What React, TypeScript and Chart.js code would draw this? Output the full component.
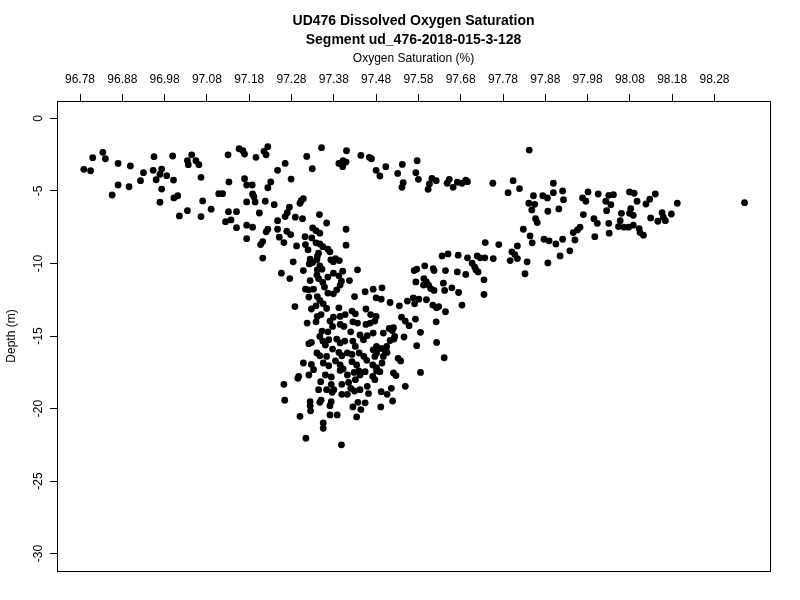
import { useEffect, useRef } from "react";
import { Chart, registerables } from "chart.js";

Chart.register(...registerables);

const titleLines = ["UD476 Dissolved Oxygen Saturation", "Segment ud_476-2018-015-3-128"];
const xTitle = "Oxygen Saturation (%)";
const yTitle = "Depth (m)";

const xTicks = [96.78, 96.88, 96.98, 97.08, 97.18, 97.28, 97.38, 97.48, 97.58, 97.68, 97.78, 97.88, 97.98, 98.08, 98.18, 98.28];
const yTicks = [0, -5, -10, -15, -20, -25, -30];

const oxygen = [
  96.810, 96.834, 96.840, 96.789, 96.805, 96.870, 96.899, 96.955, 96.999, 97.044,
  97.034, 97.054, 97.036, 97.061, 97.130, 97.156, 96.930, 96.953, 96.973, 96.969,
  96.985, 96.960, 96.923, 97.001, 97.066, 97.132, 96.870, 96.896, 96.973, 96.856,
  97.002, 97.011, 96.969, 97.070, 97.108, 97.117, 97.034, 97.015, 97.066, 97.090,
  97.131, 97.150, 97.124, 97.137, 97.150, 97.165, 97.169, 97.196, 97.215, 97.224,
  97.220, 97.265, 97.247, 97.279, 97.316, 97.351, 97.329, 97.410, 97.392, 97.402,
  97.409, 97.401, 97.444, 97.464, 97.469, 97.480, 97.489, 97.503, 97.531, 97.542,
  97.544, 97.541, 97.169, 97.174, 97.187, 97.231, 97.224, 97.188, 97.191, 97.174,
  97.194, 97.218, 97.239, 97.303, 97.308, 97.300, 97.204, 97.275, 97.270, 97.265,
  97.289, 97.306, 97.346, 97.363, 97.247, 97.174, 97.188, 97.224, 97.220, 97.247,
  97.269, 97.278, 97.330, 97.338, 97.347, 97.409, 97.312, 97.328, 97.251, 97.174,
  97.842, 97.577, 97.574, 97.580, 97.606, 97.603, 97.612, 97.622, 97.653, 97.648,
  97.662, 97.672, 97.683, 97.692, 97.696, 97.756, 97.804, 97.792, 97.819, 97.899,
  97.899, 97.921, 97.852, 97.874, 97.885, 97.923, 97.841, 97.855, 97.848, 97.886,
  97.912, 97.857, 97.861, 97.828, 97.844, 97.877, 97.921, 97.946, 97.956, 97.981,
  98.005, 97.968, 97.976, 98.030, 98.041, 98.023, 98.035, 98.025, 98.079, 98.090,
  98.097, 98.118, 98.127, 98.140, 98.192, 98.351, 97.970, 98.060, 98.082, 98.079,
  98.088, 98.129, 98.146, 98.156, 98.159, 98.164, 98.178, 97.995, 98.003, 98.030,
  98.057, 98.053, 98.066, 98.077, 98.088, 98.102, 98.104, 98.112, 98.031, 97.997,
  97.962, 97.212, 97.207, 97.262, 97.292, 97.313, 97.319, 97.338, 97.347, 97.354,
  97.366, 97.371, 97.409, 97.212, 97.284, 97.324, 97.330, 97.340, 97.341, 97.322,
  97.344, 97.373, 97.379, 97.384, 97.393, 97.256, 97.276, 97.308, 97.341, 97.340,
  97.344, 97.347, 97.352, 97.366, 97.324, 97.313, 97.321, 97.332, 97.354, 97.358,
  97.379, 97.392, 97.401, 97.398, 97.395, 97.417, 97.436, 97.387, 97.379, 97.366,
  97.321, 97.341, 97.347, 97.355, 97.429, 97.454, 97.473, 97.480, 97.288, 97.327,
  97.338, 97.363, 97.392, 97.423, 97.431, 97.456, 97.341, 97.350, 97.379, 97.395,
  97.407, 97.467, 97.480, 97.738, 97.770, 97.814, 97.801, 97.808, 97.797, 97.814,
  97.636, 97.650, 97.674, 97.696, 97.719, 97.726, 97.737, 97.757, 97.707, 97.713,
  97.716, 97.721, 97.570, 97.576, 97.595, 97.615, 97.617, 97.644, 97.672, 97.692,
  97.735, 97.574, 97.593, 97.599, 97.604, 97.592, 97.609, 97.617, 97.639, 97.642,
  97.659, 97.675, 97.735, 97.494, 97.492, 97.513, 97.535, 97.554, 97.568, 97.571,
  97.581, 97.599, 97.614, 97.623, 97.628, 97.644, 97.683, 97.540, 97.549, 97.558,
  97.573, 97.622, 97.511, 97.521, 97.317, 97.338, 97.371, 97.377, 97.366, 97.395,
  97.404, 97.425, 97.436, 97.456, 97.466, 97.477, 97.352, 97.347, 97.420, 97.442,
  97.450, 97.459, 97.473, 97.321, 97.327, 97.354, 97.360, 97.368, 97.387, 97.395,
  97.406, 97.425, 97.431, 97.377, 97.392, 97.399, 97.340, 97.347, 97.363, 97.412,
  97.423, 97.440, 97.451, 97.473, 97.481, 97.308, 97.327, 97.332, 97.355, 97.368,
  97.384, 97.395, 97.402, 97.395, 97.423, 97.434, 97.439, 97.458, 97.472, 97.481,
  97.297, 97.321, 97.360, 97.374, 97.412, 97.428, 97.442, 97.454, 97.472, 97.497,
  97.518, 97.524, 97.513, 97.522, 97.546, 97.585, 97.623, 97.576, 97.481, 97.492,
  97.505, 97.502, 97.477, 97.497, 97.506, 97.532, 97.538, 97.641, 97.494, 97.481,
  97.585, 97.521, 97.527, 97.489, 97.262, 97.295, 97.264, 97.349, 97.374, 97.380,
  97.376, 97.363, 97.344, 97.399, 97.412, 97.420, 97.429, 97.442, 97.399, 97.415,
  97.431, 97.459, 97.462, 97.477, 97.492, 97.506, 97.324, 97.324, 97.350, 97.347,
  97.374, 97.371, 97.425, 97.437, 97.444, 97.454, 97.491, 97.325, 97.371, 97.388,
  97.434, 97.300, 97.355, 97.355, 97.314, 97.398, 97.549, 97.516, 97.519, 97.849,
  97.889, 97.905, 97.950, 97.938, 97.915, 97.886, 97.837, 97.832,
];

const depth = [
  -2.71, -2.34, -2.78, -3.51, -3.61, -3.10, -3.28, -2.64, -2.59, -2.51,
  -2.92, -2.92, -3.19, -3.19, -2.51, -2.09, -3.74, -3.58, -3.49, -3.85,
  -3.95, -4.23, -4.29, -4.25, -4.06, -4.38, -4.59, -4.71, -4.87, -5.28,
  -5.48, -5.33, -5.78, -5.69, -5.19, -5.19, -6.36, -6.72, -6.77, -6.26,
  -6.43, -6.43, -7.12, -7.00, -7.53, -2.23, -2.46, -2.68, -2.27, -1.95,
  -2.51, -3.10, -3.58, -4.18, -2.62, -2.02, -3.47, -2.23, -3.10, -2.92,
  -3.01, -3.33, -2.55, -2.68, -2.78, -3.58, -3.97, -3.33, -3.79, -3.17,
  -4.43, -4.75, -4.16, -4.59, -4.59, -4.38, -4.78, -5.21, -5.40, -5.76,
  -5.76, -5.71, -5.95, -5.67, -5.53, -5.85, -6.52, -6.12, -6.50, -6.77,
  -6.81, -6.91, -6.63, -7.21, -7.05, -7.36, -7.50, -7.64, -7.82, -7.64,
  -7.78, -8.01, -7.55, -7.74, -7.91, -7.64, -8.15, -8.24, -8.19, -8.29,
  -2.18, -2.92, -3.74, -4.20, -4.52, -4.89, -4.13, -4.29, -4.20, -4.47,
  -4.75, -4.40, -4.47, -4.25, -4.36, -4.47, -4.29, -5.12, -4.84, -4.47,
  -5.12, -5.00, -5.33, -5.33, -5.48, -5.60, -5.85, -5.92, -6.31, -6.40,
  -6.24, -6.91, -7.18, -7.64, -8.10, -8.33, -8.33, -7.87, -7.69, -5.07,
  -5.21, -5.48, -5.71, -5.30, -5.26, -5.71, -5.95, -6.36, -5.07, -5.16,
  -5.71, -5.90, -5.57, -5.21, -5.85, -5.81, -6.63, -6.54, -6.22, -6.54,
  -6.68, -6.86, -7.09, -6.50, -6.81, -7.05, -6.59, -6.91, -7.23, -7.23,
  -7.05, -7.46, -7.50, -7.50, -7.36, -7.60, -7.87, -8.05, -7.91, -8.15,
  -7.50, -8.49, -8.70, -8.56, -8.79, -8.70, -9.06, -8.58, -8.65, -8.84,
  -9.02, -9.20, -8.74, -9.63, -9.89, -9.70, -9.94, -9.75, -9.52, -10.03,
  -9.29, -9.75, -9.89, -9.66, -9.80, -10.67, -11.04, -10.49, -10.44, -10.80,
  -11.04, -10.16, -10.39, -10.94, -11.18, -11.77, -11.82, -11.77, -11.31, -11.63,
  -10.67, -10.85, -10.53, -11.22, -11.49, -11.18, -10.44, -11.82, -12.09, -12.04,
  -12.32, -12.28, -12.55, -12.78, -12.28, -11.95, -11.77, -12.37, -12.97, -13.14,
  -12.92, -13.10, -13.06, -13.28, -13.47, -13.14, -13.65, -13.52, -13.70, -13.65,
  -13.52, -13.52, -13.65, -8.56, -8.70, -8.79, -9.20, -9.39, -9.80, -9.66,
  -9.48, -9.34, -9.43, -9.61, -9.48, -9.61, -9.61, -9.66, -9.98, -10.25,
  -10.44, -10.58, -10.49, -10.39, -10.16, -10.35, -10.49, -10.49, -10.58, -10.76,
  -11.13, -11.27, -11.04, -11.27, -11.49, -11.49, -11.73, -11.86, -11.36, -11.86,
  -11.68, -12.00, -12.14, -11.68, -12.46, -12.69, -12.92, -12.59, -12.37, -12.78,
  -12.46, -12.50, -12.87, -13.06, -12.97, -13.33, -12.87, -13.70, -13.97, -14.29,
  -13.83, -14.02, -14.48, -14.43, -14.11, -14.02, -13.97, -14.34, -14.71, -14.20,
  -14.34, -14.02, -14.11, -14.20, -14.11, -13.97, -14.66, -15.03, -14.71, -14.93,
  -15.26, -14.98, -14.80, -15.53, -15.44, -15.35, -15.62, -15.26, -15.21, -15.48,
  -15.35, -15.35, -15.72, -15.90, -16.13, -16.36, -16.17, -16.36, -16.41, -16.17,
  -16.27, -16.17, -16.41, -15.95, -16.17, -16.86, -16.96, -17.32, -16.86, -17.05,
  -16.72, -17.00, -17.27, -17.37, -16.77, -17.00, -17.41, -16.68, -17.00, -17.41,
  -17.78, -17.69, -17.69, -17.82, -17.69, -17.51, -17.69, -17.46, -17.78, -14.80,
  -14.62, -15.03, -15.31, -15.21, -15.07, -14.75, -15.44, -15.67, -15.72, -15.86,
  -15.72, -16.08, -16.41, -16.41, -16.13, -16.54, -16.72, -16.50, -16.86, -17.18,
  -17.51, -17.55, -17.73, -17.46, -18.33, -17.92, -19.43, -18.15, -18.33, -18.70,
  -18.88, -18.70, -18.70, -19.02, -19.02, -18.61, -18.79, -18.70, -18.33, -18.20,
  -18.01, -18.47, -18.97, -18.01, -18.84, -19.02, -19.52, -19.80, -19.43, -19.57,
  -19.52, -19.80, -19.89, -19.57, -20.07, -19.61, -19.89, -20.16, -20.44, -20.44,
  -20.58, -20.54, -20.99, -21.36, -22.05, -22.50, -18.47, -18.61, -19.48, -8.58,
  -8.44, -8.65, -8.38, -9.13, -9.48, -9.96, -9.89, -10.71,
];

const FONT = "'Liberation Sans', Arial, Helvetica, sans-serif";

export default function App() {
  const ref = useRef<HTMLCanvasElement>(null);

  useEffect(() => {
    if (!ref.current) return;
    const deco = {
      id: "deco",
      afterDraw(chart: any) {
        const { ctx, chartArea: a } = chart;
        ctx.save();
        ctx.strokeStyle = "#000";
        ctx.lineWidth = 1;
        ctx.strokeRect(a.left + 0.5, a.top + 0.5, a.right - a.left, a.bottom - a.top);
        ctx.fillStyle = "#000";
        ctx.textAlign = "center";
        ctx.textBaseline = "middle";
        const cx = (a.left + a.right) / 2;
        ctx.font = `bold 14px ${FONT}`;
        ctx.fillText(titleLines[0], cx, 21);
        ctx.fillText(titleLines[1], cx, 40);
        ctx.font = `12px ${FONT}`;
        ctx.fillText(xTitle, cx, 59);
        ctx.translate(12, (a.top + a.bottom) / 2);
        ctx.rotate(-Math.PI / 2);
        ctx.fillText(yTitle, 0, 0);
        ctx.restore();
      },
    };

    const axisGrid = {
      display: true,
      drawOnChartArea: false,
      drawTicks: true,
      tickLength: 7,
      color: "#000",
      lineWidth: 1,
    };

    const chart = new Chart(ref.current, {
      type: "scatter",
      data: {
        datasets: [
          {
            data: oxygen.map((x, i) => ({ x, y: depth[i] })),
            backgroundColor: "#000",
            borderWidth: 0,
            pointRadius: 3.4,
            pointHoverRadius: 3.4,
          },
        ],
      },
      options: {
        responsive: false,
        animation: false,
        events: [],
        layout: { padding: { top: 0, left: 0, right: 30, bottom: 29 } },
        plugins: { legend: { display: false }, tooltip: { enabled: false }, title: { display: false } },
        scales: {
          x: {
            type: "linear",
            position: "top",
            min: 96.7256,
            max: 98.4112,
            bounds: "data",
            afterBuildTicks: (s: any) => {
              s.ticks = xTicks.map((v) => ({ value: v }));
            },
            afterFit: (s: any) => {
              s.height = 101;
            },
            grid: axisGrid,
            border: { display: true, color: "#000", width: 1 },
            ticks: {
              autoSkip: false,
              minRotation: 0,
              maxRotation: 0,
              padding: 7,
              color: "#000",
              font: { size: 12, family: FONT },
              callback: (v: any) => Number(v).toFixed(2),
            },
          },
          y: {
            type: "linear",
            position: "left",
            min: -31.2,
            max: 1.2,
            bounds: "data",
            afterBuildTicks: (s: any) => {
              s.ticks = yTicks.map((v) => ({ value: v }));
            },
            afterFit: (s: any) => {
              s.width = 57;
            },
            grid: axisGrid,
            border: { display: true, color: "#000", width: 1 },
            ticks: {
              autoSkip: false,
              minRotation: 90,
              maxRotation: 90,
              crossAlign: "center",
              padding: 3,
              color: "#000",
              font: { size: 12, family: FONT },
              callback: (v: any) => String(v),
            },
          },
        },
      },
      plugins: [deco],
    } as any);

    return () => chart.destroy();
  }, []);

  return (
    <div style={{ position: "fixed", left: 0, top: 0, width: 800, height: 600, background: "#fff" }}>
      <canvas ref={ref} width={800} height={600} style={{ display: "block" }} />
    </div>
  );
}
